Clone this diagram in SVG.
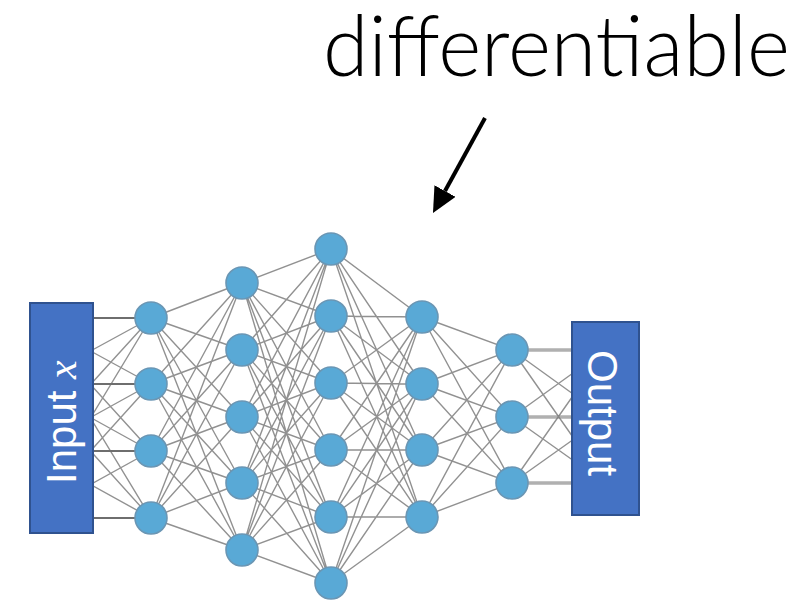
<svg xmlns="http://www.w3.org/2000/svg" width="802" height="600" viewBox="0 0 802 600">
  <style>
    .edge { fill: none; stroke: #7e7e7e; stroke-width: 1.4; stroke-opacity: 0.85; }
    .edge-in { fill: none; stroke: #6e6e6e; stroke-width: 2; }
    .edge-out { fill: none; stroke: #b0b0b0; stroke-width: 3.5; }
    .node { fill: #59a9d6; stroke: #6a96b4; stroke-width: 1.6; }
    .box { fill: #4472c4; stroke: #2f528f; stroke-width: 2; }
    .boxlabel { fill: #ffffff; font-family: "Liberation Sans", Arial, sans-serif; font-size: 42px; }
    .title { fill: #000000; font-family: Lato, "Liberation Sans", sans-serif; font-weight: 300; font-size: 84px; }
  </style>
  <defs>
    <marker id="head" viewBox="0 0 25 24" refX="0" refY="12" markerWidth="25" markerHeight="24" markerUnits="userSpaceOnUse" orient="auto">
      <path d="M0,0 L25,12 L0,24 z" fill="#000"/>
    </marker>
  </defs>
  <rect width="802" height="600" fill="#ffffff"/>

  <g id="connectors">
    <!-- input units (behind the input box) to hidden layer 1 -->
    <path class="edge" d="M30 318L151 384M30 318L151 451M30 318L151 518M30 384L151 318M30 384L151 451M30 384L151 518M30 451L151 318M30 451L151 384M30 451L151 518M30 518L151 318M30 518L151 384M30 518L151 451"/>
    <path class="edge-in" d="M30 318L151 318M30 384L151 384M30 451L151 451M30 518L151 518"/>
    <!-- layer 1 to layer 2 -->
    <path class="edge" d="M151 318L242 283M151 318L242 350M151 318L242 417M151 318L242 483M151 318L242 550M151 384L242 283M151 384L242 350M151 384L242 417M151 384L242 483M151 384L242 550M151 451L242 283M151 451L242 350M151 451L242 417M151 451L242 483M151 451L242 550M151 518L242 283M151 518L242 350M151 518L242 417M151 518L242 483M151 518L242 550"/>
    <!-- layer 2 to layer 3 -->
    <path class="edge" d="M242 283L331 249M242 283L331 316M242 283L331 383M242 283L331 450M242 283L331 517M242 283L331 583M242 350L331 249M242 350L331 316M242 350L331 383M242 350L331 450M242 350L331 517M242 350L331 583M242 417L331 249M242 417L331 316M242 417L331 383M242 417L331 450M242 417L331 517M242 417L331 583M242 483L331 249M242 483L331 316M242 483L331 383M242 483L331 450M242 483L331 517M242 483L331 583M242 550L331 249M242 550L331 316M242 550L331 383M242 550L331 450M242 550L331 517M242 550L331 583"/>
    <!-- layer 3 to layer 4 -->
    <path class="edge" d="M331 249L422 317M331 249L422 384M331 249L422 450M331 249L422 517M331 316L422 317M331 316L422 384M331 316L422 450M331 316L422 517M331 383L422 317M331 383L422 384M331 383L422 450M331 383L422 517M331 450L422 317M331 450L422 384M331 450L422 450M331 450L422 517M331 517L422 317M331 517L422 384M331 517L422 450M331 517L422 517M331 583L422 317M331 583L422 384M331 583L422 450M331 583L422 517"/>
    <!-- layer 4 to layer 5 -->
    <path class="edge" d="M422 317L512 350M422 317L512 417M422 317L512 483M422 384L512 350M422 384L512 417M422 384L512 483M422 450L512 350M422 450L512 417M422 450L512 483M422 517L512 350M422 517L512 417M422 517L512 483"/>
    <!-- layer 5 to output units (behind the output box) -->
    <path class="edge-out" d="M512 350L605 350M512 417L605 417M512 483L605 483"/>
    <path class="edge" d="M512 350L605 417M512 350L605 483M512 417L605 350M512 417L605 483M512 483L605 350M512 483L605 417"/>
    <!-- pointer from the caption -->
    <line x1="485" y1="118" x2="445" y2="191" stroke="#000" stroke-width="4" marker-end="url(#head)"/>
  </g>

  <g id="input">
    <rect class="box" x="30" y="303" width="63" height="230"/>
    <text class="boxlabel" transform="translate(76,484) rotate(-90)">Input <tspan font-family="'Liberation Serif', 'DejaVu Serif', serif" font-style="italic">x</tspan></text>
  </g>

  <g id="layer1">
    <circle class="node" cx="151" cy="318" r="16"/>
    <circle class="node" cx="151" cy="384" r="16"/>
    <circle class="node" cx="151" cy="451" r="16"/>
    <circle class="node" cx="151" cy="518" r="16"/>
  </g>
  <g id="layer2">
    <circle class="node" cx="242" cy="283" r="16"/>
    <circle class="node" cx="242" cy="350" r="16"/>
    <circle class="node" cx="242" cy="417" r="16"/>
    <circle class="node" cx="242" cy="483" r="16"/>
    <circle class="node" cx="242" cy="550" r="16"/>
  </g>
  <g id="layer3">
    <circle class="node" cx="331" cy="249" r="16"/>
    <circle class="node" cx="331" cy="316" r="16"/>
    <circle class="node" cx="331" cy="383" r="16"/>
    <circle class="node" cx="331" cy="450" r="16"/>
    <circle class="node" cx="331" cy="517" r="16"/>
    <circle class="node" cx="331" cy="583" r="16"/>
  </g>
  <g id="layer4">
    <circle class="node" cx="422" cy="317" r="16"/>
    <circle class="node" cx="422" cy="384" r="16"/>
    <circle class="node" cx="422" cy="450" r="16"/>
    <circle class="node" cx="422" cy="517" r="16"/>
  </g>
  <g id="layer5">
    <circle class="node" cx="512" cy="350" r="16"/>
    <circle class="node" cx="512" cy="417" r="16"/>
    <circle class="node" cx="512" cy="483" r="16"/>
  </g>

  <g id="output">
    <rect class="box" x="572" y="322" width="67" height="193"/>
    <text class="boxlabel" transform="translate(588,350) rotate(90)" font-size="43">Output</text>
  </g>

  <g id="caption">
    <text class="title" x="323" y="76" textLength="467" lengthAdjust="spacingAndGlyphs">differentiable</text>
  </g>
</svg>
